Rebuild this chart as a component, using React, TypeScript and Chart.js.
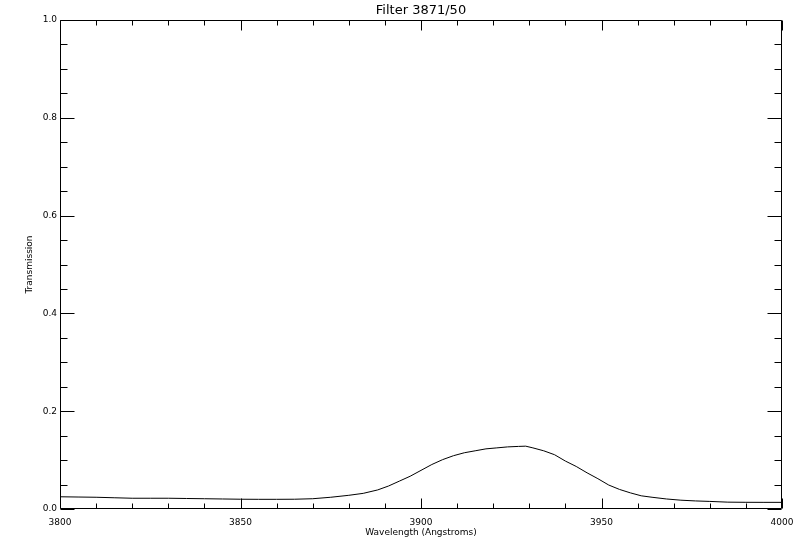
import React, { useEffect, useRef } from "react";
import { Chart, registerables } from "chart.js";

Chart.register(...registerables);

const chartTitle = "Filter 3871/50";
const xAxisTitle = "Wavelength (Angstroms)";
const yAxisTitle = "Transmission";

const wavelengths = [
  3800, 3805, 3810, 3815, 3820, 3825, 3830, 3835, 3840, 3845, 3850, 3855, 3860, 3865, 3870,
  3875, 3880, 3884, 3888, 3891, 3894, 3897, 3900, 3903, 3906, 3909, 3912, 3915, 3918, 3921,
  3924, 3927, 3929, 3931, 3934, 3937, 3940, 3943, 3946, 3949, 3952, 3955, 3958, 3961, 3964,
  3968, 3972, 3976, 3980, 3985, 3990, 3995, 4000,
];
const transmission = [
  0.025, 0.0245, 0.024, 0.023, 0.022, 0.022, 0.022, 0.0215, 0.021, 0.0205, 0.02, 0.0198, 0.0198, 0.02, 0.021,
  0.024, 0.028, 0.032, 0.039, 0.047, 0.057, 0.067, 0.079, 0.091, 0.101, 0.109, 0.115, 0.119, 0.123, 0.125,
  0.127, 0.128, 0.1285, 0.125, 0.119, 0.111, 0.098, 0.087, 0.074, 0.062, 0.049, 0.04, 0.033, 0.027, 0.024,
  0.0205, 0.018, 0.0165, 0.0155, 0.014, 0.0137, 0.0136, 0.0136,
];

const xMin = 3800;
const xMax = 4000;
const xMajorStep = 50;
const xMinorStep = 10;
const yMin = 0;
const yMax = 1;
const yMajorStep = 0.2;
const yMinorStep = 0.05;

const framePlugin = {
  id: "idlFrame",
  afterDraw(chart: any) {
    const { ctx, chartArea } = chart;
    const xs = chart.scales.x;
    const ys = chart.scales.y;
    const { left, right, top, bottom } = chartArea;
    ctx.save();
    ctx.strokeStyle = "#000";
    ctx.lineWidth = 1;
    ctx.beginPath();
    const L = Math.round(left) + 0.5;
    const R = Math.round(right) - 0.5;
    const T = Math.round(top) + 0.5;
    const B = Math.round(bottom) - 0.5;
    ctx.rect(L, T, R - L, B - T);
    const nx = Math.round((xMax - xMin) / xMinorStep);
    for (let i = 0; i <= nx; i++) {
      const v = xMin + i * xMinorStep;
      const r = (v - xMin) / xMajorStep;
      const isMajor = Math.abs(r - Math.round(r)) < 1e-6;
      const len = isMajor ? 10 : 5;
      const px = Math.round(xs.getPixelForValue(v)) + 0.5;
      ctx.moveTo(px, B);
      ctx.lineTo(px, B - len);
      ctx.moveTo(px, T);
      ctx.lineTo(px, T + len);
    }
    const ny = Math.round((yMax - yMin) / yMinorStep);
    for (let i = 0; i <= ny; i++) {
      const v = yMin + i * yMinorStep;
      const r = (v - yMin) / yMajorStep;
      const isMajor = Math.abs(r - Math.round(r)) < 1e-6;
      const len = isMajor ? 14 : 7;
      const py = Math.round(ys.getPixelForValue(v)) + 0.5;
      ctx.moveTo(L, py);
      ctx.lineTo(L + len, py);
      ctx.moveTo(R, py);
      ctx.lineTo(R - len, py);
    }
    ctx.stroke();
    ctx.restore();
  },
};

export default function App() {
  const canvasRef = useRef<HTMLCanvasElement | null>(null);

  useEffect(() => {
    if (!canvasRef.current) return;
    const points = wavelengths.map((w, i) => ({ x: w, y: transmission[i] }));
    const tickFont = { family: "'DejaVu Sans', sans-serif", size: 9 };
    const chart = new Chart(canvasRef.current, {
      type: "line",
      data: {
        datasets: [
          {
            data: points,
            borderColor: "#000",
            borderWidth: 1,
            pointRadius: 0,
            tension: 0,
            fill: false,
          },
        ],
      },
      options: {
        animation: false,
        responsive: false,
        maintainAspectRatio: false,
        layout: { padding: { top: 0, right: 18, left: 0, bottom: 0 } },
        plugins: {
          legend: { display: false },
          tooltip: { enabled: false },
          title: {
            display: true,
            fullSize: false,
            text: chartTitle,
            color: "#000",
            font: { family: "'DejaVu Sans', sans-serif", size: 13, weight: "normal", lineHeight: 1 },
            padding: { top: 4, bottom: 3 },
          },
        },
        scales: {
          x: {
            type: "linear",
            min: xMin,
            max: xMax,
            grid: { display: false, drawTicks: false },
            border: { display: false },
            ticks: {
              stepSize: xMajorStep,
              color: "#000",
              font: tickFont,
              padding: 8,
              maxRotation: 0,
              callback: (v: any) => String(v),
            },
            title: {
              display: true,
              text: xAxisTitle,
              color: "#000",
              font: tickFont,
              padding: { top: 0, bottom: 12 },
            },
            afterFit: (scale: any) => {
              scale.height = 41;
              scale.paddingLeft = 0;
              scale.paddingRight = 0;
            },
          },
          y: {
            type: "linear",
            min: yMin,
            max: yMax,
            grid: { display: false, drawTicks: false },
            border: { display: false },
            ticks: {
              stepSize: yMajorStep,
              color: "#000",
              font: tickFont,
              padding: 3,
              callback: (v: any) => Number(v).toFixed(1),
            },
            title: {
              display: true,
              text: yAxisTitle,
              color: "#000",
              font: tickFont,
              padding: { top: 24.6, bottom: 0 },
            },
            afterFit: (scale: any) => {
              scale.width = 60;
              scale.paddingTop = 0;
              scale.paddingBottom = 0;
            },
          },
        },
      },
      plugins: [framePlugin],
    });
    return () => chart.destroy();
  }, []);

  return (
    <div style={{ position: "fixed", left: 0, top: 0, width: 800, height: 550, background: "#fff" }}>
      <canvas ref={canvasRef} width={800} height={550} style={{ display: "block" }} />
    </div>
  );
}
